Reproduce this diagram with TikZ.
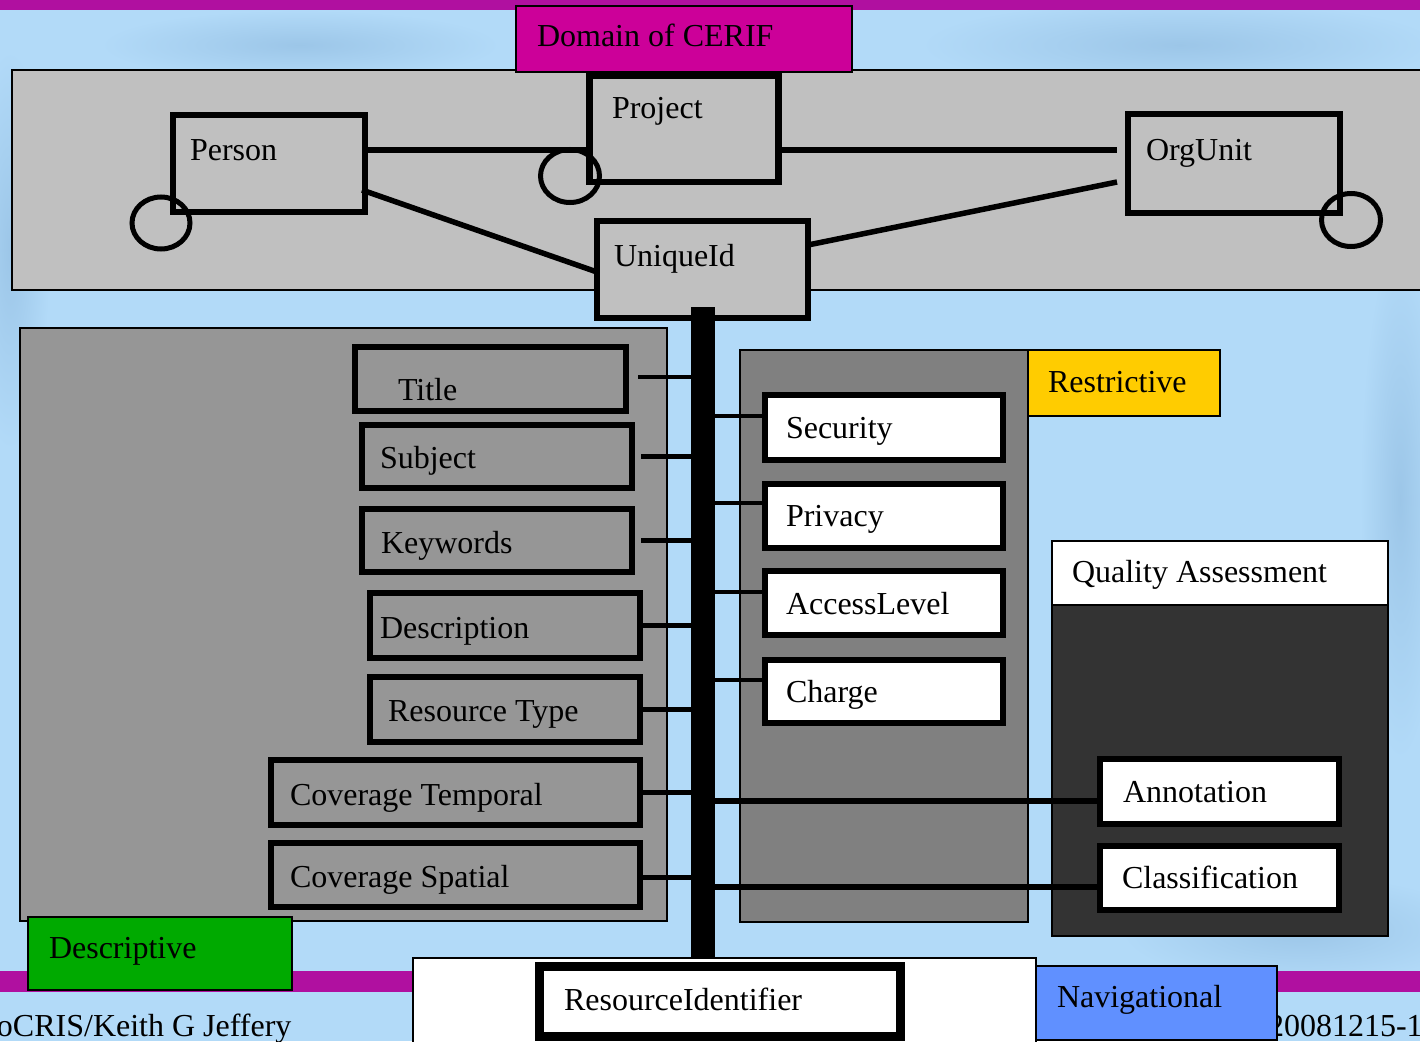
\documentclass[tikz,border=0pt]{standalone}
\usepackage{fontspec}
\setmainfont{Liberation Serif}
\usetikzlibrary{shapes.geometric}
\definecolor{bgblue}{RGB}{178,218,248}
\definecolor{bgdark}{RGB}{156,198,232}
\definecolor{barpurple}{RGB}{176,16,160}
\definecolor{domainmag}{RGB}{204,0,153}
\definecolor{toppanelgray}{RGB}{192,192,192}
\definecolor{leftgray}{RGB}{150,150,150}
\definecolor{midgray}{RGB}{128,128,128}
\definecolor{qagray}{RGB}{51,51,51}
\definecolor{restyellow}{RGB}{255,204,0}
\definecolor{descgreen}{RGB}{0,170,0}
\definecolor{navblue}{RGB}{96,144,255}
\newcommand\bigtxt{\fontsize{32}{38}\selectfont}
\begin{document}
\begin{tikzpicture}[x=1pt,y=-1pt,
  panel/.style={draw=black,line width=1.5pt,inner sep=0pt,outer sep=0pt},
  ent/.style={draw=black,line width=6pt,inner sep=0pt,outer sep=0pt},
  topent/.style={draw=black,line width=6.5pt,inner sep=0pt,outer sep=0pt,fill=toppanelgray},
  lbl/.style={anchor=base west,inner sep=0pt,outer sep=0pt,font=\bigtxt},
  conn/.style={line width=4.5pt},
  longconn/.style={line width=5.5pt},
  ring/.style={ellipse,draw=black,line width=5pt,inner sep=0pt,outer sep=0pt},
  blob/.style={inner color=bgdark,outer color=bgblue}]
\useasboundingbox (0,0) rectangle (1420,1041);
% background with soft texture
\fill[bgblue] (0,0) rectangle (1420,1041);
\shade[blob] (1180,45) ellipse (260 and 45);
\shade[blob] (1300,930) ellipse (180 and 55);
\shade[blob] (10,250) ellipse (40 and 200);
\shade[blob] (1400,500) ellipse (40 and 260);
\shade[blob] (300,45) ellipse (200 and 35);
\fill[barpurple] (0,0) rectangle (1420,10);
\fill[barpurple] (0,971) rectangle (1420,992);
\node[lbl] (foot1) at (-3,1036) {oCRIS/Keith G Jeffery};
\node[lbl] (foot2) at (1268,1036) {20081215-1};

% top panel
\node[panel,fill=toppanelgray,minimum width=1418pt,minimum height=220pt] (toppanel) at (721,180) {};
\node[panel,fill=domainmag,minimum width=336pt,minimum height=66pt] (domain) at (684,39) {};
\node[lbl] (t-domain) at (537,47) {Domain of CERIF};

% top entities
\node[topent,minimum width=192pt,minimum height=97pt] (person) at (269,163.5) {};
\node[lbl] (t-person) at (190,160) {Person};
\node[topent,minimum width=189pt,minimum height=106pt] (project) at (684,129) {};
\node[lbl] (t-project) at (612,118) {Project};
\node[topent,minimum width=212pt,minimum height=99pt] (orgunit) at (1234,163.5) {};
\node[lbl] (t-orgunit) at (1146,160) {OrgUnit};
\node[topent,minimum width=211pt,minimum height=97pt] (uniqueid) at (702.5,269.5) {};
\node[lbl] (t-uniqueid) at (614,266) {UniqueId};

% top connectors
\draw[longconn] ([yshift=13.5pt]person.east) -- ([yshift=13.5pt]person.east -| project.west);
\draw[longconn] ([yshift=-21pt]project.east) -- ([xshift=-11pt,yshift=13.5pt]orgunit.west);
\draw[longconn] ([xshift=-11pt,yshift=-18.5pt]orgunit.west) -- ([yshift=24.5pt]uniqueid.east);
\draw[longconn] ([xshift=-3pt,yshift=-26.5pt]person.east) -- ([yshift=-2.5pt]uniqueid.west);

% rings
\node[ring,minimum width=58pt,minimum height=52pt] (ring-person) at (161,223) {};
\node[ring,minimum width=59pt,minimum height=53pt] (ring-project) at (570,176) {};
\node[ring,minimum width=59pt,minimum height=53pt] (ring-orgunit) at (1351,220) {};

% panels
\node[panel,fill=leftgray,minimum width=647pt,minimum height=593pt] (leftpanel) at (343.5,624.5) {};
\node[panel,fill=midgray,minimum width=288pt,minimum height=572pt] (midpanel) at (884,636) {};
\node[panel,fill=restyellow,minimum width=192pt,minimum height=66pt] (restrictive) at (1124,383) {};
\node[lbl] (t-restrictive) at (1048,392) {Restrictive};
\node[panel,fill=qagray,minimum width=336pt,minimum height=395pt] (qapanel) at (1220,738.5) {};
\node[panel,fill=white,minimum width=336pt,minimum height=64pt] (qahead) at (1220,573) {};
\node[lbl] (t-qa) at (1072,582) {Quality Assessment};

% descriptive boxes
\node[ent,fill=leftgray,minimum width=271pt,minimum height=64pt] (title) at (490.5,379) {};
\node[lbl] (t-title) at (398,400) {Title};
\node[ent,fill=leftgray,minimum width=270pt,minimum height=63pt] (subject) at (497,456.5) {};
\node[lbl] (t-subject) at (380,468) {Subject};
\node[ent,fill=leftgray,minimum width=270pt,minimum height=63pt] (keywords) at (497,540.5) {};
\node[lbl] (t-keywords) at (381,553) {Keywords};
\node[ent,fill=leftgray,minimum width=270pt,minimum height=65pt] (description) at (505,625.5) {};
\node[lbl] (t-description) at (380,638) {Description};
\node[ent,fill=leftgray,minimum width=270pt,minimum height=65pt] (restype) at (505,709.5) {};
\node[lbl] (t-restype) at (388,721) {Resource Type};
\node[ent,fill=leftgray,minimum width=369pt,minimum height=65pt] (covtemp) at (455.5,792.5) {};
\node[lbl] (t-covtemp) at (290,805) {Coverage Temporal};
\node[ent,fill=leftgray,minimum width=369pt,minimum height=64pt] (covspat) at (455.5,875) {};
\node[lbl] (t-covspat) at (290,887) {Coverage Spatial};

% restrictive boxes
\node[ent,fill=white,minimum width=238pt,minimum height=65pt] (security) at (884,427.5) {};
\node[lbl] (t-security) at (786,438) {Security};
\node[ent,fill=white,minimum width=238pt,minimum height=64pt] (privacy) at (884,516) {};
\node[lbl] (t-privacy) at (786,526) {Privacy};
\node[ent,fill=white,minimum width=238pt,minimum height=64pt] (access) at (884,603) {};
\node[lbl] (t-access) at (786,614) {AccessLevel};
\node[ent,fill=white,minimum width=238pt,minimum height=63pt] (charge) at (884,691.5) {};
\node[lbl] (t-charge) at (786,702) {Charge};

% quality boxes
\node[ent,fill=white,minimum width=239pt,minimum height=65pt] (annotation) at (1219.5,791.5) {};
\node[lbl] (t-annotation) at (1123,802) {Annotation};
\node[ent,fill=white,minimum width=239pt,minimum height=64pt] (classification) at (1219.5,878) {};
\node[lbl] (t-classification) at (1122,888) {Classification};

% spine
\node[fill=black,inner sep=0pt,outer sep=0pt,minimum width=24pt,minimum height=651pt] (spine) at (703,632.5) {};

% connectors to spine
\draw[conn] ([xshift=12pt,yshift=2pt]title.east) -- ([yshift=2pt]title.east -| spine.center);
\draw[conn] ([xshift=9pt]subject.east) -- (subject.east -| spine.center);
\draw[conn] ([xshift=9pt]keywords.east) -- (keywords.east -| spine.center);
\draw[conn] (description.east) -- (description.east -| spine.center);
\draw[conn] (restype.east) -- (restype.east -| spine.center);
\draw[conn] (covtemp.east) -- (covtemp.east -| spine.center);
\draw[conn] ([yshift=-2.5pt]covspat.east) -- ([yshift=-2.5pt]covspat.east -| spine.center);
\draw[conn] ([yshift=11.5pt]security.west -| spine.center) -- ([yshift=11.5pt]security.west);
\draw[conn] ([yshift=13pt]privacy.west -| spine.center) -- ([yshift=13pt]privacy.west);
\draw[conn] ([yshift=11pt]access.west -| spine.center) -- ([yshift=11pt]access.west);
\draw[conn] ([yshift=11.5pt]charge.west -| spine.center) -- ([yshift=11.5pt]charge.west);
\draw[longconn] ([yshift=-9.5pt]annotation.west -| spine.center) -- ([yshift=-9.5pt]annotation.west);
\draw[longconn] ([yshift=-9pt]classification.west -| spine.center) -- ([yshift=-9pt]classification.west);

% bottom
\node[panel,fill=white,minimum width=623pt,minimum height=92pt] (resarea) at (724.5,1004) {};
\node[draw=black,line width=9pt,fill=white,inner sep=0pt,outer sep=0pt,minimum width=361pt,minimum height=70pt] (resid) at (720,1001.5) {};
\node[lbl] (t-resid) at (564,1010) {ResourceIdentifier};
\node[panel,fill=navblue,minimum width=241pt,minimum height=74pt] (nav) at (1156.5,1003) {};
\node[lbl] (t-nav) at (1057,1007) {Navigational};
\node[panel,fill=descgreen,minimum width=264pt,minimum height=73pt] (desc) at (160,953.5) {};
\node[lbl] (t-desc) at (49,958) {Descriptive};
\end{tikzpicture}
\end{document}
